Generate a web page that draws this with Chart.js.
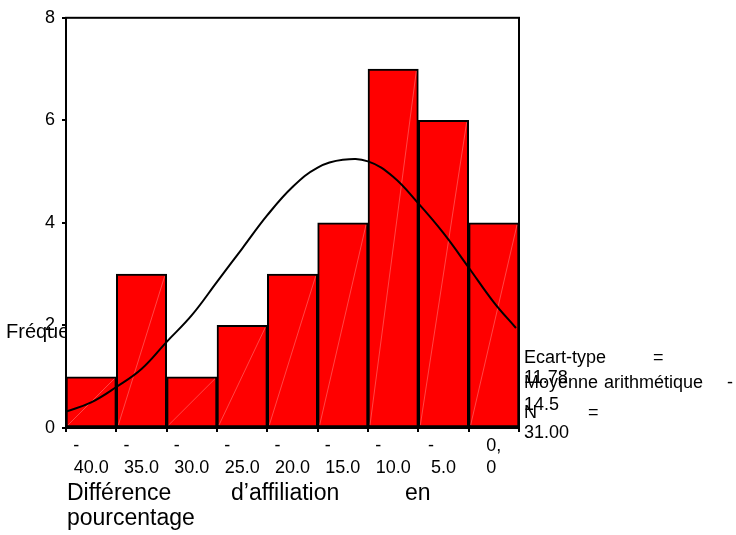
<!DOCTYPE html>
<html>
  <head>
    <meta charset="utf-8">
    <title>Différence d'affiliation</title>
    <style>
      body { margin: 0; background: #fff; }
      #wrap { width: 736px; height: 535px; }
    </style>
  </head>
  <body>
    <div id="wrap"><canvas id="histo" width="736" height="535"></canvas></div>

    <script src="https://cdn.jsdelivr.net/npm/chart.js@4.4.0/dist/chart.umd.min.js"></script>
    <script>

      // Histogram bins (bin centres) and counts
      const categories = ["-40.0", "-35.0", "-30.0", "-25.0", "-20.0", "-15.0", "-10.0", "-5.0", "0,0"];
      const binCentres = [-40, -35, -30, -25, -20, -15, -10, -5, 0];
      const counts = [1, 3, 1, 2, 3, 4, 7, 6, 4];

      // Tick labels as they appear under the bars (two lines each)
      const tickLabels = [
        ["-      ", "40.0"], ["-      ", "35.0"], ["-      ", "30.0"], ["-      ", "25.0"],
        ["-      ", "20.0"], ["-      ", "15.0"], ["-      ", "10.0"], ["-     ", "5.0"], ["0,", "0 "]
      ];

      // Normal curve
      const curveX = [-42.5, -40, -37.5, -35, -32.5, -30, -27.5, -25, -22.5, -20, -17.5, -15, -12.5, -10, -7.5, -5, -2.5, 0, 2.2];
      const curveY = [0.32, 0.5, 0.8, 1.15, 1.68, 2.2, 2.85, 3.5, 4.15, 4.7, 5.08, 5.23, 5.2, 4.9, 4.38, 3.8, 3.13, 2.45, 1.95];

      const yTicks = [0, 2, 4, 6, 8];
      const FONT = "'Liberation Sans', Arial, sans-serif";

      // Text around the plot: axis titles and the stats box
      const decorations = {
        id: "decorations",
        beforeDatasetsDraw(chart) {
          const ctx = chart.ctx;
          const area = chart.chartArea;
          ctx.save();
          ctx.beginPath();
          ctx.rect(0, 0, area.left, chart.height);
          ctx.clip();
          ctx.font = "20px " + FONT;
          ctx.fillStyle = "#000";
          ctx.textBaseline = "alphabetic";
          ctx.fillText("Fréquence", 6, 338);
          ctx.restore();
        },
        // faint diagonal streak inside each bar, like the exported picture
        afterDatasetDraw(chart, args) {
          if (args.meta.type !== "bar") return;
          const ctx = chart.ctx;
          ctx.save();
          ctx.strokeStyle = "rgba(255, 160, 160, 0.55)";
          ctx.lineWidth = 0.8;
          args.meta.data.forEach((bar) => {
            const half = bar.width / 2;
            ctx.beginPath();
            ctx.moveTo(bar.x - half + 2, bar.base - 2);
            ctx.lineTo(bar.x + half - 2, bar.y + 2);
            ctx.stroke();
          });
          ctx.restore();
        },
        afterDatasetsDraw(chart) {
          const ctx = chart.ctx;
          const a = chart.chartArea;
          ctx.save();
          ctx.strokeStyle = "#000";
          ctx.lineWidth = 2;
          ctx.strokeRect(a.left, a.top, a.right - a.left, a.bottom - a.top);
          ctx.restore();
        },
        afterDraw(chart) {
          const ctx = chart.ctx;
          ctx.save();
          ctx.fillStyle = "#000";
          ctx.textBaseline = "alphabetic";

          // x axis title
          ctx.font = "23px " + FONT;
          ctx.fillText("Différence", 67, 500);
          ctx.fillText("d\u2019affiliation", 231, 500);
          ctx.fillText("en", 405, 500);
          ctx.fillText("pourcentage", 67, 525);

          // stats
          ctx.font = "18px " + FONT;
          ctx.fillText("Ecart-type", 524, 363);
          ctx.fillText("=", 653, 363);
          ctx.fillText("11.78", 524, 383);
          ctx.fillText("Moyenne", 524, 388);
          ctx.fillText("arithmétique", 604, 388);
          ctx.fillText("-", 727, 388);
          ctx.fillText("14.5", 524, 410);
          ctx.fillText("N", 524, 418);
          ctx.fillText("=", 588, 418);
          ctx.fillText("31.00", 524, 438);
          ctx.restore();
        }
      };

      const ctx = document.getElementById("histo").getContext("2d");

      const chart = new Chart(ctx, {
        type: "bar",
        data: {
          datasets: [
            {
              type: "line",
              data: curveX.map((x, i) => ({ x: x, y: curveY[i] })),
              borderColor: "#000",
              borderWidth: 2,
              pointRadius: 0,
              tension: 0.4,
              fill: false,
              order: 0
            },
            {
              label: "Fréquence",
              data: binCentres.map((x, i) => ({ x: x, y: counts[i] })),
              backgroundColor: "#ff0000",
              borderColor: "#000",
              borderWidth: 2,
              borderSkipped: false,
              barPercentage: 1,
              categoryPercentage: 1,
              grouped: false,
              order: 1
            }
          ]
        },
        options: {
          responsive: false,
          animation: false,
          layout: { padding: { top: 16, right: 217, left: 0, bottom: 0 } },
          plugins: {
            legend: { display: false },
            tooltip: { enabled: false }
          },
          scales: {
            x: {
              type: "linear",
              min: -42.5,
              max: 2.5,
              offset: false,
              grid: { display: true, drawOnChartArea: false, tickLength: 4, color: "#000", lineWidth: 2 },
              border: { display: true, color: "#000", width: 2 },
              afterBuildTicks: (s) => { s.ticks = binCentres.map(v => ({ value: v })); },
              ticks: {
                color: "#000",
                font: { family: FONT, size: 18, lineHeight: 1.22 },
                padding: 3,
                maxRotation: 0,
                autoSkip: false,
                callback: (v, i) => tickLabels[binCentres.indexOf(v)]
              },
              afterFit: (s) => { s.height = 107; }
            },
            y: {
              min: 0,
              max: 8,
              grid: { display: true, drawOnChartArea: false, tickLength: 4, color: "#000", lineWidth: 2 },
              border: { display: true, color: "#000", width: 2 },
              afterBuildTicks: (s) => { s.ticks = yTicks.map(v => ({ value: v })); },
              ticks: {
                color: "#000",
                font: { family: FONT, size: 18 },
                padding: 7
              },
              afterFit: (s) => { s.width = 66; }
            }
          }
        },
        plugins: [decorations]
      });

    </script>
  </body>
</html>
